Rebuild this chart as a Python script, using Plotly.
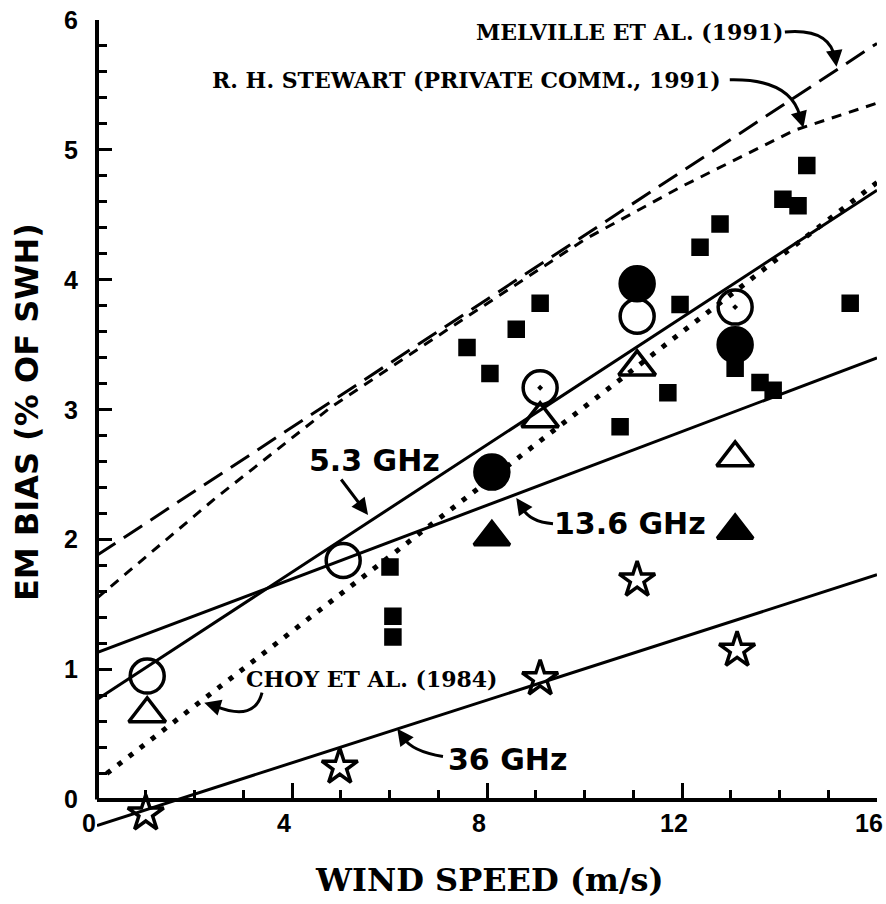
import plotly.graph_objects as go

# ---------------- data (wind speed in m/s, EM bias in % of SWH) ----------------
open_circle_x = [1.03, 5.05, 11.08]
open_circle_y = [0.95, 1.84, 3.72]

dot_circle_x = [9.09, 13.09]
dot_circle_y = [3.17, 3.79]

filled_circle_x = [8.10, 11.08, 13.09]
filled_circle_y = [2.52, 3.97, 3.50]

open_tri_x = [1.03, 9.09, 11.08, 13.09]
open_tri_y = [0.66, 2.93, 3.33, 2.63]

filled_tri_x = [8.10, 13.09]
filled_tri_y = [2.02, 2.07]

star_x = [1.00, 4.98, 9.09, 11.08, 13.13]
star_y = [-0.11, 0.25, 0.93, 1.69, 1.15]

square_x = [6.01, 6.07, 6.07, 7.59, 8.06, 8.60, 9.09, 10.73, 11.71, 11.96,
            12.37, 12.78, 13.09, 13.60, 13.87, 14.07, 14.38, 14.56, 15.45]
square_y = [1.79, 1.41, 1.25, 3.48, 3.28, 3.62, 3.82, 2.87, 3.13, 3.81,
            4.25, 4.43, 3.32, 3.21, 3.15, 4.62, 4.57, 4.88, 3.82]

# fitted lines (end points)
fit53_x = [0, 16]
fit53_y = [0.77, 4.69]
fit136_x = [0, 16]
fit136_y = [1.13, 3.40]
fit36_x = [0, 16]
fit36_y = [-0.20, 1.73]

# model curves
choy_x = [0.2, 16]
choy_y = [0.20, 4.75]
melville_x = [0, 16]
melville_y = [1.88, 5.82]
stewart_x = [0, 2.4, 4.8, 7.2, 10, 12, 14.3, 16]
stewart_y = [1.55, 2.31, 3.02, 3.62, 4.31, 4.72, 5.15, 5.36]

x_ticks = [0, 4, 8, 12, 16]
y_ticks = [0, 1, 2, 3, 4, 5, 6]
y_minor = [round(0.2 * i, 1) for i in range(1, 30) if i % 5]

BLACK = "black"
SANS = "Liberation Sans"
LABEL = "DejaVu Sans"
SERIF = "DejaVu Serif"

fig = go.Figure()


def add_line(x, y, dash="solid", width=3):
    fig.add_trace(go.Scatter(x=x, y=y, mode="lines",
                             line=dict(color=BLACK, width=width, dash=dash),
                             showlegend=False, hoverinfo="skip"))


add_line(melville_x, melville_y, dash="22px,10px")
add_line(stewart_x, stewart_y, dash="10px,8px")
add_line(choy_x, choy_y, dash="5px,9px", width=5)
add_line(fit53_x, fit53_y)
add_line(fit136_x, fit136_y)
add_line(fit36_x, fit36_y)


def add_markers(x, y, symbol, size, lw=3.5):
    fig.add_trace(go.Scatter(
        x=x, y=y, mode="markers", cliponaxis=False, showlegend=False,
        marker=dict(symbol=symbol, size=size, color=BLACK,
                    line=dict(color=BLACK, width=lw)),
    ))


add_markers(square_x, square_y, "square", 14)
add_markers(filled_circle_x, filled_circle_y, "circle", 34)
add_markers(open_circle_x, open_circle_y, "circle-open", 34)
add_markers(dot_circle_x, dot_circle_y, "circle-open-dot", 34)
add_markers(open_tri_x, open_tri_y, "triangle-up-open", 32)
add_markers(filled_tri_x, filled_tri_y, "triangle-up", 31)
add_markers(star_x, star_y, "star-open", 27)

# left axis line (stops at the x axis)
fig.add_shape(type="line", xref="paper", yref="y", x0=0, x1=0, y0=0, y1=6,
              line=dict(color=BLACK, width=4))

# curved leader lines
curves = [
    "M 14.11 5.908 Q 15.04 5.94 15.14 5.70",      # Melville
    "M 12.98 5.54 Q 14.22 5.55 14.42 5.26",       # Stewart
    "M 3.385 0.823 Q 3.24 0.60 2.45 0.715",       # Choy
    "M 9.354 2.123 Q 8.841 2.138 8.70 2.262",     # 13.6 GHz
    "M 7.097 0.331 Q 6.462 0.369 6.28 0.477",     # 36 GHz
]
for p in curves:
    fig.add_shape(type="path", path=p, xref="x", yref="y",
                  line=dict(color=BLACK, width=3))

arrows = [
    # (head x, head y, tail dx px, tail dy px)
    (15.17, 5.64, -2, -14),
    (14.49, 5.17, -4, -14),
    (2.20, 0.745, 13, 4),
    (8.60, 2.32, 7, 10),
    (6.16, 0.545, 8, 11),
    (5.56, 2.19, -28, -37),
]
for hx, hy, dx, dy in arrows:
    fig.add_annotation(x=hx, y=hy, ax=dx, ay=dy, xref="x", yref="y",
                       text="", showarrow=True, arrowhead=2, arrowsize=1.1,
                       arrowwidth=3, arrowcolor=BLACK)

texts = [
    ("MELVILLE ET AL. (1991)", 10.93, 5.908, SERIF, 22),
    ("R. H. STEWART (PRIVATE COMM., 1991)", 7.57, 5.538, SERIF, 22),
    ("CHOY ET AL. (1984)", 5.64, 0.931, SERIF, 22),
    ("5.3 GHz", 5.70, 2.608, LABEL, 30),
    ("13.6 GHz", 10.93, 2.123, LABEL, 30),
    ("36 GHz", 8.43, 0.308, LABEL, 30),
]
for t, x, y, fam, sz in texts:
    fig.add_annotation(x=x, y=y, xref="x", yref="y", text=t, showarrow=False,
                       font=dict(family=fam, size=sz, color=BLACK, weight="bold"),
                       xanchor="center", yanchor="middle")

# axis titles
fig.add_annotation(x=0.5026, y=-0.059, xref="paper", yref="paper",
                   text="WIND SPEED (m/s)", showarrow=False,
                   xanchor="center", yanchor="middle",
                   font=dict(family=SERIF, size=32, color=BLACK, weight="bold"))
fig.add_annotation(x=-0.090, y=0.517, xref="paper", yref="paper",
                   text="EM BIAS (% OF SWH)", textangle=-90, showarrow=False,
                   xanchor="center", yanchor="middle",
                   font=dict(family=LABEL, size=32, color=BLACK, weight="bold"))

tickfont = dict(family=SANS, size=25, color=BLACK, weight="bold")

fig.update_layout(
    width=886, height=904,
    margin=dict(l=97, r=9, t=20, b=72),
    paper_bgcolor="white", plot_bgcolor="white",
    showlegend=False,
    xaxis=dict(range=[0, 16], anchor="free", position=0.04,
               showline=True, linewidth=4, linecolor=BLACK,
               ticks="inside", tickvals=x_ticks, ticklen=15, tickwidth=3,
               tickcolor=BLACK,
               minor=dict(dtick=1, tick0=0, ticks="inside", ticklen=8,
                          tickwidth=3, tickcolor=BLACK),
               showgrid=False, zeroline=False, tickfont=tickfont,
               ticklabelstandoff=0, ticklabelshift=-8, automargin=False),
    yaxis=dict(range=[-0.25, 6.0], showline=False,
               ticks="inside", tickvals=y_ticks, ticklen=15, tickwidth=3,
               tickcolor=BLACK,
               minor=dict(tickmode="array", tickvals=y_minor, ticks="inside",
                          ticklen=10, tickwidth=3, tickcolor=BLACK),
               showgrid=False, zeroline=False, tickfont=tickfont,
               ticklabelstandoff=18, automargin=False),
)

fig.write_html("out.html")
